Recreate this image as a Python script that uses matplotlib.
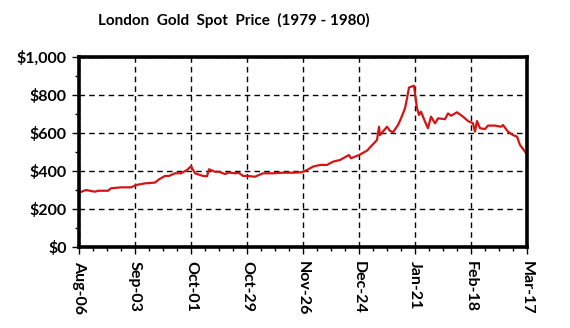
import matplotlib
matplotlib.use("Agg")
import matplotlib.pyplot as plt
import matplotlib.dates as mdates
import matplotlib.ticker as mticker
import pandas as pd

# days after 1979-08-06, and the London gold price that day
days = [0, 3.5, 8, 9.5, 14.5, 16, 21, 26, 28.5, 33, 38, 40, 43, 45, 48, 51, 54,
        56, 58, 62, 64, 65, 68, 70, 73, 75, 78, 80, 82, 84, 88, 92, 97, 102, 107,
        111, 114, 117, 120.5, 124, 127, 130.5, 135, 136, 140, 144, 146, 149, 150,
        150.5, 154, 155.5, 157, 159.5, 161, 163, 164, 165, 167.5, 169, 170, 171,
        173, 174.5, 176, 178, 179.5, 183, 184.5, 186, 189, 192, 194.5, 197, 198,
        199, 200.5, 203, 204.5, 208, 211, 212, 214.5, 217, 219, 220.5, 223, 224]
price = [286, 300, 291, 296, 296, 309, 314, 314, 326, 335, 339, 356, 374, 374, 388,
         388, 405, 425, 388, 374, 372, 409, 396, 396, 384, 392, 388, 390, 374, 374,
         370, 388, 388, 391, 391, 393, 405, 423, 432, 432, 449, 458, 484, 467, 484,
         507, 530, 563, 633, 589, 633, 611, 604, 642, 677, 730, 782, 839, 849, 730,
         695, 712, 660, 625, 686, 651, 677, 673, 703, 691, 709, 686, 663, 651, 607,
         663, 625, 621, 639, 639, 633, 642, 607, 589, 581, 537, 502, 488]

start = pd.Timestamp("1979-08-06")
end = pd.Timestamp("1980-03-17")
dates = start + pd.to_timedelta(days, unit="D")

fig = plt.figure(figsize=(5.7, 3.28), dpi=100)
ax = fig.add_axes([79 / 570, 1 - 247 / 328, 448 / 570, 190 / 328])

ax.plot(dates, price, color="#d41515", lw=1.6, solid_joinstyle="round")

ax.set_xlim(start, end)
ax.set_ylim(0, 1000)

# ticks every 4 weeks, minor every week
major_dates = pd.date_range(start, end, freq="28D")
minor_dates = pd.date_range(start, end, freq="7D")
ax.set_xticks(mdates.date2num(major_dates))
ax.set_xticks(mdates.date2num(minor_dates), minor=True)
ax.xaxis.set_major_formatter(mdates.DateFormatter("%b-%d"))
ax.yaxis.set_major_locator(mticker.MultipleLocator(200))
ax.yaxis.set_minor_locator(mticker.MultipleLocator(100))
ax.yaxis.set_major_formatter(mticker.FuncFormatter(lambda v, p: f"${v:,.0f}"))

for lab in ax.get_xticklabels():
    lab.set_rotation(270)
    lab.set_ha("center")
    lab.set_va("top")

ax.tick_params(which="major", direction="out", length=5, width=1, labelsize=11.5)
ax.tick_params(axis="y", which="major", pad=4)
ax.tick_params(axis="x", which="major", pad=5)
ax.tick_params(which="minor", direction="out", length=3, width=1)
for lab in ax.get_xticklabels() + ax.get_yticklabels():
    lab.set_fontweight("bold")
    lab.set_family("Lato")

ax.grid(True, which="major", color="black", linestyle=(0, (4, 3)), lw=1)
for s in ax.spines.values():
    s.set_linewidth(2.6)

fig.text(234 / 570, 1 - 20 / 328, "London  Gold  Spot  Price  (1979 - 1980)",
         ha="center", va="center", fontsize=11, fontweight="bold", family="Lato")

fig.savefig("out.png", dpi=100)
